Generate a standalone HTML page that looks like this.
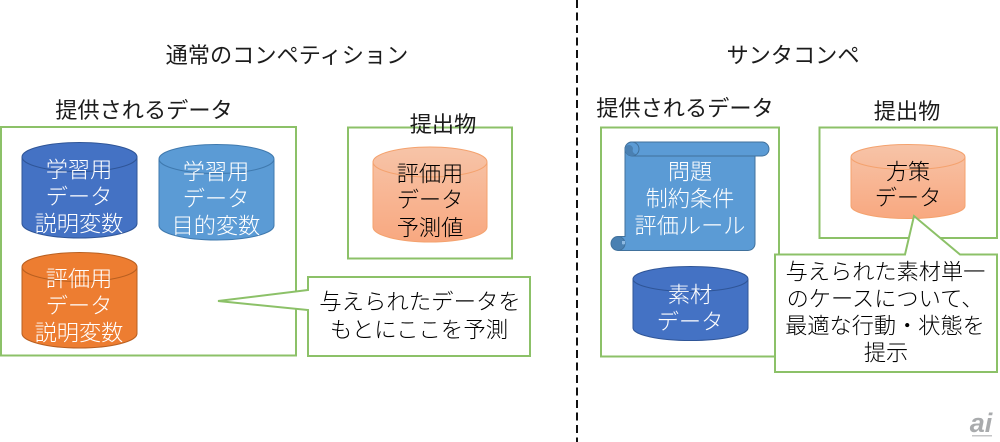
<!DOCTYPE html>
<html><head><meta charset="utf-8"><style>
html,body{margin:0;padding:0;background:#fff;width:1000px;height:442px;overflow:hidden}
svg{display:block}
text{font-family:"Liberation Sans","Noto Sans CJK JP",sans-serif;font-size:22.2px;font-weight:400;text-anchor:middle;dominant-baseline:central;fill:#1c1c1c}
.w{fill:#fff;font-weight:300}
.l{font-weight:300;fill:#000}
.b{fill:none;stroke:#8CC168;stroke-width:2}
.c{fill:#fff;stroke:#8CC168;stroke-width:2}
</style></head><body>
<svg width="1000" height="442" viewBox="0 0 1000 442" xmlns="http://www.w3.org/2000/svg">
<defs>
<linearGradient id="g" x1="0" y1="0" x2="0" y2="1"><stop offset="0" stop-color="#F7C4A8"/><stop offset="1" stop-color="#F8A880"/></linearGradient>
</defs>
<line x1="577" y1="0" x2="577" y2="442" stroke="#111" stroke-width="2" stroke-dasharray="8 4.500"/>

<text x="287" y="55.500">通常のコンペティション</text>
<text x="793" y="55.500">サンタコンペ</text>
<text x="144" y="110.500">提供されるデータ</text>
<text x="685" y="108.500">提供されるデータ</text>
<text x="907" y="111.500">提出物</text>

<rect class="b" x="1" y="127" width="295" height="228.500"/>
<rect class="b" x="348" y="127.500" width="164" height="131"/>
<text x="443" y="124.500">提出物</text>
<rect class="b" x="601" y="127.500" width="178" height="229"/>
<rect class="b" x="819.500" y="127.500" width="177.500" height="110.500"/>

<!-- cylinders -->
<path d="M22 157A57.500 14.500 0 0 1 137 157V223.500A57.500 14.500 0 0 1 22 223.500Z" fill="#4472C4" stroke="#2F5597" stroke-width="1"/>
<path d="M22 157A57.500 14.500 0 0 0 137 157" fill="none" stroke="#2F5597" stroke-width="1"/>
<path d="M159 159A57.500 14.500 0 0 1 274 159V225.500A57.500 14.500 0 0 1 159 225.500Z" fill="#5B9BD5" stroke="#3F79AE" stroke-width="1"/>
<path d="M159 159A57.500 14.500 0 0 0 274 159" fill="none" stroke="#3F79AE" stroke-width="1"/>
<path d="M22 267A57.500 14.500 0 0 1 137 267V333.500A57.500 14.500 0 0 1 22 333.500Z" fill="#ED7D31" stroke="#B85F20" stroke-width="1"/>
<path d="M22 267A57.500 14.500 0 0 0 137 267" fill="none" stroke="#B85F20" stroke-width="1"/>
<path d="M373 162A57 15 0 0 1 487 162V227A57 15 0 0 1 373 227Z" fill="url(#g)" stroke="#F4A26E" stroke-width="1"/>
<path d="M373 162A57 15 0 0 0 487 162" fill="none" stroke="#F4A26E" stroke-width="1"/>
<path d="M633 279A57.500 12.500 0 0 1 748 279V328A57.500 12.500 0 0 1 633 328Z" fill="#4472C4" stroke="#2F5597" stroke-width="1"/>
<path d="M633 279A57.500 12.500 0 0 0 748 279" fill="none" stroke="#2F5597" stroke-width="1"/>
<path d="M851 157A57 12.500 0 0 1 965 157V206A57 12.500 0 0 1 851 206Z" fill="url(#g)" stroke="#F4A26E" stroke-width="1"/>
<path d="M851 157A57 12.500 0 0 0 965 157" fill="none" stroke="#F4A26E" stroke-width="1"/>

<!-- scroll -->
<path d="M625 149A7 7 0 0 1 632 142H762A7 7 0 0 1 762 156H755V243.500A7 7 0 0 1 748 250.500H618V236.500H625Z" fill="#5B9BD5" stroke="#41719C" stroke-width="1"/>
<path d="M632 156H755" fill="none" stroke="#41719C" stroke-width="1"/>
<circle cx="632" cy="149" r="7" fill="#5B9BD5" stroke="#41719C" stroke-width="1"/>
<path d="M632 156A7 7 0 0 1 625 149A4 4 0 0 1 633 149A3.500 3.500 0 0 0 636 154A7 7 0 0 1 632 156Z" fill="#4A80B2"/>
<circle cx="618" cy="243.500" r="7" fill="#4A80B2" stroke="#41719C" stroke-width="1"/>
<path d="M625 241V244A2.500 2.500 0 0 1 622 244V241Z" fill="#8DB9E2"/>

<!-- callouts -->
<path class="c" d="M308 277H530V356H308V310L218 301L308 290Z"/>
<path class="c" d="M775 254.500H905L914 216L960 254.500H997V372H775Z"/>

<!-- cylinder text -->
<text class="w" x="79" y="170">学習用</text><text class="w" x="79" y="197">データ</text><text class="w" x="79" y="224">説明変数</text>
<text class="w" x="216" y="172">学習用</text><text class="w" x="216" y="199">データ</text><text class="w" x="216" y="226">目的変数</text>
<text class="w" x="79" y="279">評価用</text><text class="w" x="79" y="306">データ</text><text class="w" x="79" y="333">説明変数</text>
<text class="w" x="690" y="172">問題</text><text class="w" x="690" y="199">制約条件</text><text class="w" x="690" y="226">評価ルール</text>
<text class="w" x="690" y="295">素材</text><text class="w" x="690" y="322">データ</text>

<text class="l" x="430" y="174">評価用</text><text class="l" x="430" y="200">データ</text><text class="l" x="430" y="228">予測値</text>
<text class="l" x="908" y="172">方策</text><text class="l" x="908" y="198">データ</text>

<text class="l" x="420" y="302" style="font-size:22.400px">与えられたデータを</text>
<text class="l" x="419" y="330" style="font-size:22.400px">もとにここを予測</text>
<text class="l" x="885.500" y="272">与えられた素材単一</text>
<text class="l" x="885" y="299">のケースについて、</text>
<text class="l" x="885" y="326">最適な行動・状態を</text>
<text class="l" x="886" y="353">提示</text>

<text x="981" y="423" style="font-size:27px;font-style:italic;font-weight:700;fill:#A9ABAD;font-family:'Liberation Sans',sans-serif">ai</text>
<rect x="972" y="435" width="20" height="1.500" fill="#C4C5C7"/>
</svg>
</body></html>
